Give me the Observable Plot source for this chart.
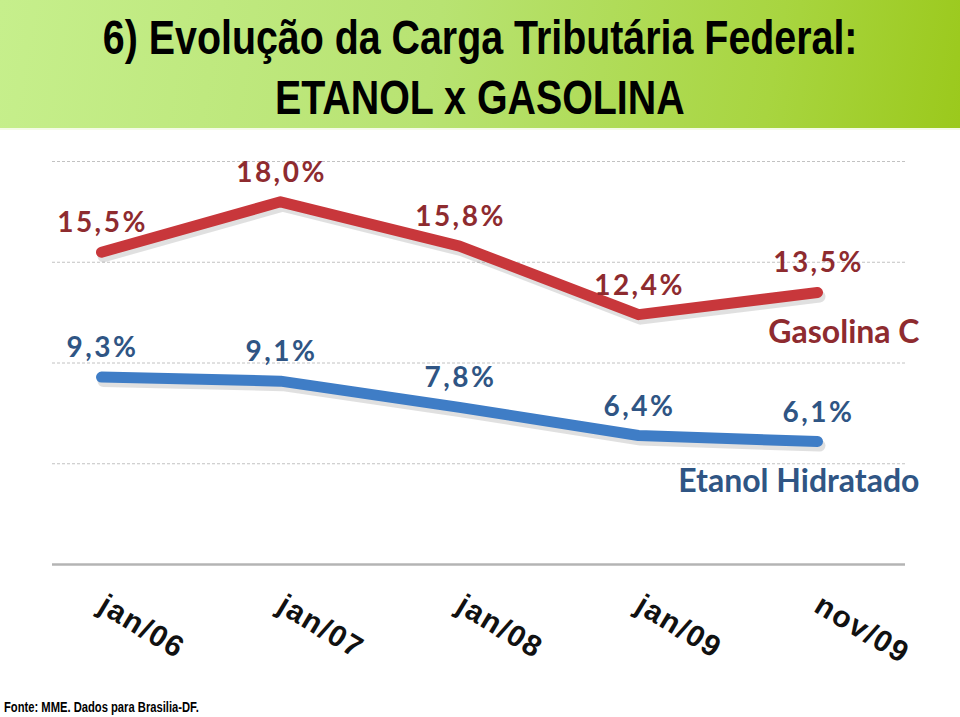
<!DOCTYPE html>
<html>
<head>
<meta charset="utf-8">
<script src="https://cdn.jsdelivr.net/npm/d3@7"></script>
<script src="https://cdn.jsdelivr.net/npm/@observablehq/plot@0.6"></script>
<style>
  html, body { margin: 0; padding: 0; background: #fff; }
  #page { position: relative; width: 960px; height: 717px; overflow: hidden; background: #fff; }
  #header {
    height: 130px; box-sizing: border-box; padding-top: 8px;
    background: linear-gradient(100deg, #c6ef8c 0%, #b8e372 45%, #a8d540 80%, #9bc91c 100%);
    border-bottom: 2px solid #f4fbe6;
    text-align: center;
    font-family: "Liberation Sans", Arial, sans-serif;
    font-weight: bold; font-size: 48px; line-height: 60px; color: #000;
  }
  #header span { display: inline-block; white-space: nowrap; transform: scaleX(0.82); transform-origin: center; }
  #chart { position: absolute; left: 0; top: 130px; }
  #caption {
    position: absolute; left: 4px; top: 699px; white-space: nowrap;
    font-family: "Liberation Sans", Arial, sans-serif;
    font-weight: bold; font-size: 14px; color: #000;
    transform: scaleX(0.8); transform-origin: left center;
  }
  g[aria-label="x-axis tick label"] text { letter-spacing: 1.5px; }
</style>
</head>
<body>
<div id="page">
  <div id="header"><span>6) Evolução da Carga Tributária Federal:</span><br><span>ETANOL x GASOLINA</span></div>
  <div id="chart"></div>
  <div id="caption">Fonte: MME. Dados para Brasilia-DF.</div>
</div>
<script>
const months = ["jan/06", "jan/07", "jan/08", "jan/09", "nov/09"];
const gasolina = [15.5, 18.0, 15.8, 12.4, 13.5];
const etanol = [9.3, 9.1, 7.8, 6.4, 6.1];
const seriesNames = ["Gasolina C", "Etanol Hidratado"];
const gridValues = [5, 10, 15, 20];

const lineColors = {"Gasolina C": "#c8373b", "Etanol Hidratado": "#3f7dc6"};
const textColors = {"Gasolina C": "#8e2b2f", "Etanol Hidratado": "#2f5584"};

const rows = [];
[gasolina, etanol].forEach((vals, si) => {
  vals.forEach((v, i) => rows.push({month: months[i], value: v, series: seriesNames[si]}));
});
const fmt = v => v.toFixed(1).replace(".", ",") + "%";
const lastRows = seriesNames.map(s => rows.filter(r => r.series === s).at(-1));

const chart = Plot.plot({
  width: 960,
  height: 587,
  marginTop: 31,
  marginBottom: 153,
  marginLeft: 52,
  marginRight: 55,
  x: {type: "point", domain: months, padding: 0.375, align: 0.36, label: null},
  y: {domain: [0, 20], axis: null, label: null},
  marks: [
    Plot.ruleY(gridValues, {stroke: "#c2c2c2", strokeWidth: 1, strokeDasharray: "3,2"}),
    Plot.ruleY([0], {stroke: "#b4b4b4", strokeWidth: 2.5}),
    Plot.axisX({
      tickSize: 0, tickRotate: 31, tickPadding: 38,
      fontSize: 30, fontWeight: "bold", fill: "#111",
      fontFamily: "Liberation Sans, Arial, sans-serif"
    }),
    Plot.line(rows, {
      x: "month", y: "value", z: "series",
      stroke: "#555", strokeOpacity: 0.18, strokeWidth: 12,
      dx: 2, dy: 4, strokeLinecap: "round", strokeLinejoin: "round"
    }),
    Plot.line(rows, {
      x: "month", y: "value", z: "series",
      stroke: d => lineColors[d.series], strokeWidth: 11,
      strokeLinecap: "round", strokeLinejoin: "round"
    }),
    Plot.text(rows, {
      x: "month", y: "value", text: d => fmt(d.value),
      fill: d => textColors[d.series], dy: -29, dx: 1,
      fontSize: 28, fontWeight: "bold", fontFamily: "Lato, Open Sans, sans-serif"
    }),
    Plot.text(lastRows, {
      x: "month", y: "value", text: "series",
      fill: d => textColors[d.series], textAnchor: "end", dx: 102, dy: 40,
      fontSize: 32, fontWeight: "bold", fontFamily: "Lato, Open Sans, sans-serif"
    })
  ]
});
// widen the value labels (first text mark) as in the reference
const textGroups = chart.querySelectorAll('g[aria-label="text"]');
if (textGroups.length) textGroups[0].style.letterSpacing = "2.5px";
document.getElementById("chart").appendChild(chart);
</script>
</body>
</html>
